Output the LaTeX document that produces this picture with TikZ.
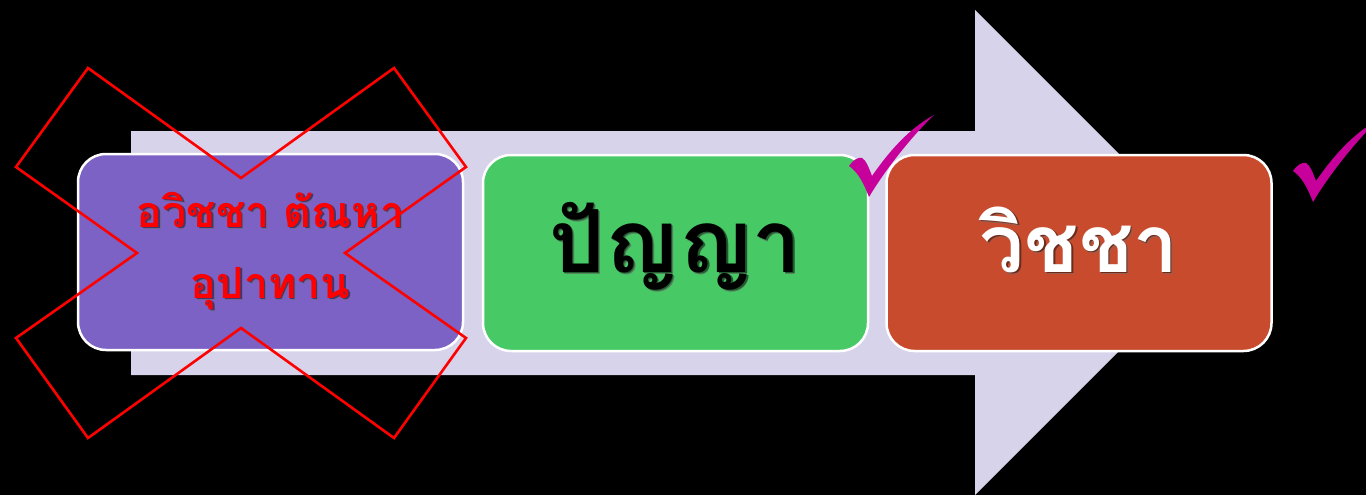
\documentclass[tikz,border=0pt]{standalone}
\usepackage{fontspec}
\newfontfamily\thaifont[Script=Thai]{Loma}
\definecolor{lav}{HTML}{D7D3EA}
\definecolor{boxpurple}{HTML}{7C62C5}
\definecolor{boxgreen}{HTML}{47CA66}
\definecolor{boxorange}{HTML}{C84B2D}
\definecolor{tickc}{HTML}{C8009B}
\definecolor{xred}{HTML}{FF0000}
\newcommand\shadowed[2]{\leavevmode\rlap{\kern2.2pt\raisebox{-2.2pt}{\color{#1!75}#2}}\rlap{\kern1.3pt\raisebox{-1.3pt}{\color{#1}#2}}#2}
\tikzset{
  box/.style={draw=white, line width=2.5pt, rounded corners=28pt,
    minimum width=385pt, minimum height=196pt, inner sep=0pt, align=center},
  onetext/.style={text height=40pt, text depth=2pt},
  xmark/.style={draw=xred, line width=2.6pt, line join=miter},
  tick/.pic={\fill[tickc] (-19,-30) .. controls (-15,-36) and (-10,-39) .. (-6,-38)
     .. controls (-2,-36) and (1,-28) .. (4,-20)
     .. controls (22,-46) and (42,-68) .. (66,-81)
     .. controls (44,-60) and (17,-26) .. (1,1)
     .. controls (-4,-12) and (-10,-24) .. (-19,-30) -- cycle;}
}
\begin{document}
\begin{tikzpicture}[x=1pt,y=-1pt]
\fill[black] (0,0) rectangle (1366,495);
\useasboundingbox (0,0) rectangle (1366,495);
\fill[lav] (131,131) -- (975,131) -- (975,10) -- (1217.5,252.5) -- (975,495) -- (975,375) -- (131,375) -- cycle;
\node[box, fill=boxpurple, text=xred, font=\thaifont\bfseries\fontsize{43}{71}\selectfont] (avijja) at (270.5,252)
  {\shadowed{boxpurple!55!black}{อวิชชา ตัณหา}\\\shadowed{boxpurple!55!black}{อุปาทาน}};
\node[box, onetext, fill=boxgreen, text=black, font=\thaifont\bfseries\fontsize{87}{90}\selectfont] (panya) at (675.5,253)
  {\shadowed{boxgreen!45!black}{ปัญญา}};
\node[box, onetext, fill=boxorange, text=white, font=\thaifont\bfseries\fontsize{80}{90}\selectfont] (vijja) at (1079,253)
  {\shadowed{boxorange!55!black}{วิชชา}};
\pic at (868,196) {tick};
\pic at (1312,201) {tick};
\draw[xmark] (88,68) -- (241,178) -- (394,68) -- (466,167) -- (345,253) -- (466,338) -- (394,438) -- (241,328) -- (88,438) -- (16,338) -- (137,253) -- (16,167) -- cycle;
\end{tikzpicture}
\end{document}
